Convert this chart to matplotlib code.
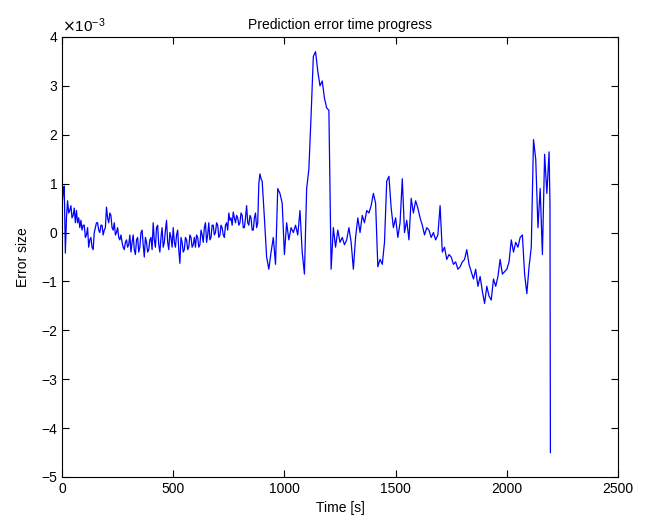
import numpy as np
import matplotlib
matplotlib.use("Agg")
import matplotlib.pyplot as plt

# early segment: 5 s sampling, 0..895 s
time_early = list(range(0, 900, 5))
error_early = [
    0.55, 0.8, 0.95, -0.42, 0.3, 0.65, 0.4, 0.45, 0.55, 0.3, 0.35, 0.5, 0.2, 0.45, 0.2, 0.3, 0.1, 0.25, 0.05, 0.15,
    0.15, -0.1, -0.05, 0.1, -0.3, -0.15, -0.1, -0.3, -0.35, 0.0, 0.1, 0.2, 0.2, 0.05, 0.0, 0.15, 0.15, -0.05, 0.05, 0.1,
    0.52, 0.3, 0.2, 0.4, 0.35, 0.1, 0.05, 0.2, -0.05, 0.0, 0.1, -0.1, -0.15, -0.05, -0.2, -0.3, -0.35, -0.2, -0.15, -0.3,
    -0.25, -0.05, -0.4, -0.2, -0.05, -0.35, -0.45, -0.15, -0.1, -0.4, -0.3, 0.0, 0.05, -0.25, -0.5, -0.1, -0.2, -0.4, -0.35, -0.15,
    -0.1, -0.35, 0.2, -0.15, -0.3, 0.1, 0.15, -0.25, -0.4, -0.1, 0.1, -0.3, -0.2, 0.05, 0.25, -0.2, -0.35, 0.0, -0.1, -0.3,
    0.1, -0.2, -0.3, -0.05, 0.05, -0.35, -0.63, -0.1, -0.2, -0.4, -0.35, -0.1, -0.15, -0.35, -0.3, -0.05, -0.1, -0.3, -0.25, -0.1,
    -0.3, -0.05, -0.1, -0.3, -0.25, 0.05, -0.05, -0.2, 0.1, 0.2, -0.2, -0.05, 0.2, -0.15, -0.1, 0.15, 0.15, -0.05, 0.0, 0.2,
    0.15, -0.1, -0.05, 0.15, 0.1, -0.05, -0.1, 0.15, 0.2, 0.05, 0.4, 0.25, 0.3, 0.15, 0.42, 0.3, 0.2, 0.35, 0.3, 0.15,
    0.2, 0.4, 0.35, 0.1, 0.1, 0.3, 0.55, 0.2, 0.15, 0.35, 0.3, 0.05, 0.05, 0.3, 0.4, 0.1, 0.2, 1.0, 1.2, 1.1,
]

# later segment: 10 s sampling, 900..2190 s, then the final drop
time_late = list(range(900, 2200, 10)) + [2194, 2196]
error_late = [
    1.05, 0.3, -0.5, -0.75, -0.4, -0.1, -0.65, 0.9, 0.8, 0.6,
    -0.45, 0.2, -0.15, 0.1, 0.0, 0.15, -0.05, 0.45, -0.4, -0.85,
    0.9, 1.3, 2.4, 3.6, 3.7, 3.3, 3.0, 3.1, 2.75, 2.55,
    2.5, -0.75, 0.1, -0.3, 0.05, -0.2, -0.1, -0.25, -0.15, 0.1,
    -0.2, -0.75, -0.1, 0.3, 0.0, 0.35, 0.2, 0.45, 0.4, 0.55,
    0.8, 0.6, -0.7, -0.55, -0.65, -0.2, 1.05, 1.15, 0.5, 0.1,
    0.3, -0.1, 0.2, 1.1, 0.0, 0.25, -0.15, 0.7, 0.4, 0.65,
    0.5, 0.3, 0.15, -0.05, 0.1, 0.05, -0.1, 0.0, -0.15, -0.05,
    0.55, -0.4, -0.3, -0.55, -0.45, -0.5, -0.65, -0.6, -0.75, -0.7,
    -0.6, -0.55, -0.35, -0.65, -0.8, -0.95, -0.75, -1.1, -0.9, -1.2,
    -1.45, -1.1, -1.3, -1.38, -0.95, -1.1, -0.9, -0.55, -0.85, -0.8,
    -0.75, -0.6, -0.15, -0.4, -0.2, -0.3, -0.1, -0.05, -0.85, -1.25,
    -0.7, -0.3, 1.9, 1.5, 0.1, 0.9, -0.45, 1.6, 0.8, 1.65,
    0.6, -4.5,
]

x_ticks = [0, 500, 1000, 1500, 2000, 2500]
y_ticks = [-5, -4, -3, -2, -1, 0, 1, 2, 3, 4]

plt.rcParams['font.family'] = ['Liberation Sans', 'DejaVu Sans']
fig = plt.figure(figsize=(6.5, 5.29), dpi=100)
ax = fig.add_axes([0.0954, 0.0983, 0.8554, 0.8318])
ax.plot(time_early + time_late, error_early + error_late,
        color=(0, 0, 1), linewidth=0.9)
ax.set_xlim(0, 2500)
ax.set_ylim(-5, 4)
ax.set_xticks(x_ticks)
ax.set_yticks(y_ticks)
ax.tick_params(direction='in', top=True, right=True, labelsize=10, length=5)
ax.set_title('Prediction error time progress', fontsize=10)
ax.set_xlabel('Time [s]', fontsize=10)
ax.set_ylabel('Error size', fontsize=10, labelpad=8)
ax.text(0.0, 1.005, r'$\times\mathregular{10^{-3}}$', transform=ax.transAxes,
        ha='left', va='bottom', fontsize=11)
fig.savefig('out.png', dpi=100)
